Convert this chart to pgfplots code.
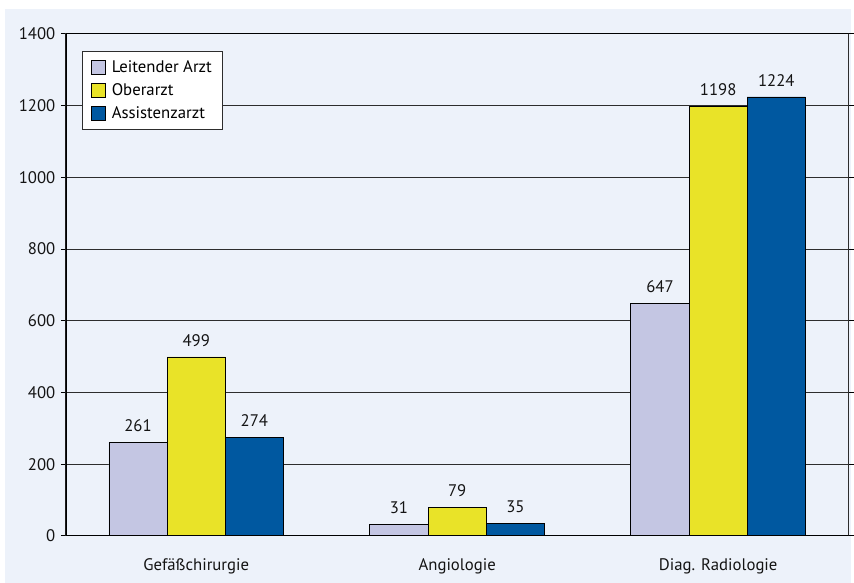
\documentclass[border=0pt]{standalone}
\usepackage{fontspec}
\setmainfont{PT Sans}
\usepackage{pgfplots}
\pgfplotsset{compat=1.18}
\definecolor{bgpanel}{RGB}{237,242,250}
\definecolor{leitend}{RGB}{196,198,227}
\definecolor{ober}{RGB}{233,227,40}
\definecolor{assist}{RGB}{0,88,160}
\definecolor{gridgray}{RGB}{45,45,45}
\definecolor{txt}{RGB}{20,20,20}
\newcommand{\lblfont}{\fontsize{16.8pt}{19pt}\selectfont}
\begin{document}
\begin{tikzpicture}
% page and panel background
\fill[white] (0,0) rectangle (854pt,585pt);
\fill[bgpanel] (5pt,0) rectangle (854pt,576pt);
\begin{axis}[
  at={(66pt,47pt)}, anchor=south west,
  scale only axis, width=786pt, height=504pt,
  ybar=0pt, bar width=0.223,
  xmin=-0.5, xmax=2.5, ymin=0, ymax=1400,
  xtick={0,1,2},
  xticklabels={Gefäßchirurgie, Angiologie, Diag. Radiologie},
  ytick={0,200,...,1400},
  ymajorgrids,
  grid style={gridgray, line width=0.8pt},
  axis line style={gridgray, line width=0.8pt},
  tick align=outside,
  major tick length=5pt,
  x tick style={draw=none},
  y tick style={black, line width=0.8pt},
  /pgf/number format/assume math mode=true,
  /pgf/number format/1000 sep={},
  tick label style={font=\lblfont, text=txt},
  xticklabel style={yshift=-14pt},
  yticklabel style={xshift=-2pt},
  nodes near coords,
  every node near coord/.append style={font=\lblfont, text=txt, yshift=7pt},
  legend cell align=left,
  legend style={at={(rel axis cs:0.0204,0.966)}, anchor=north west,
    draw=gridgray, line width=0.8pt, fill=white, font=\lblfont,
    inner xsep=9pt, inner ysep=7pt, row sep=6pt,
    /tikz/every odd column/.append style={column sep=4pt}},
  legend image code/.code={%
    \draw[#1, line width=0.8pt] (0pt,-7pt) rectangle (14pt,7pt);},
]
\addplot[draw=black, line width=0.8pt, fill=leitend, bar shift=-0.223]
  coordinates {(0,261) (1,31) (2,647)};
\addplot[draw=black, line width=0.8pt, fill=ober, bar shift=0]
  coordinates {(0,499) (1,79) (2,1198)};
\addplot[draw=black, line width=0.8pt, fill=assist, bar shift=0.223]
  coordinates {(0,274) (1,35) (2,1224)};
\legend{Leitender Arzt, Oberarzt, Assistenzarzt}
% heavier left and bottom axis lines
\draw[black, line width=1.8pt] (rel axis cs:0,1) -- (rel axis cs:0,0) -- (rel axis cs:1,0);
\draw[black, line width=1pt] (rel axis cs:0,1) -- (rel axis cs:1,1);
\end{axis}
\end{tikzpicture}
\end{document}
